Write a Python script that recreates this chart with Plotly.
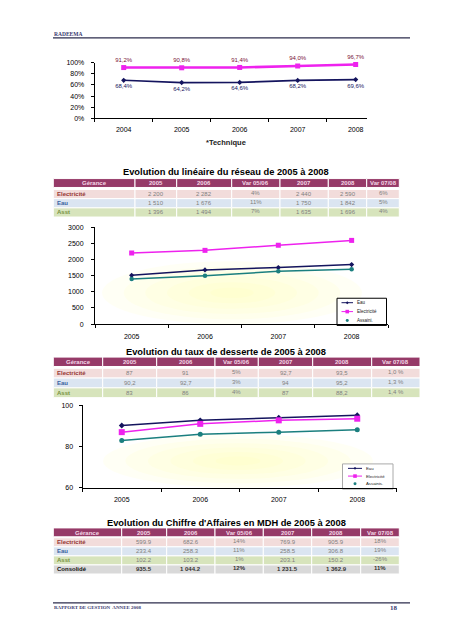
import plotly.graph_objects as go

# ---------------- data ----------------
rend_years = ["2004", "2005", "2006", "2007", "2008"]
rend_elec = [91.2, 90.8, 91.4, 94.0, 96.7]
rend_eau = [68.4, 64.2, 64.6, 68.2, 69.6]

years = ["2005", "2006", "2007", "2008"]
table_header = ["Gérance", "2005", "2006", "Var 05/06", "2007", "2008", "Var 07/08"]
gerances = ["Electricité", "Eau", "Asst"]

lin_elec = [2200, 2282, 2440, 2590]
lin_eau = [1510, 1676, 1750, 1842]
lin_asst = [1396, 1494, 1635, 1696]
lin_var_0506 = [4, 11, 7]
lin_var_0708 = [6, 5, 4]
lin_legend = ["Eau", "Electricité", "Assaini."]

taux_elec = [87, 91, 92.7, 93.5]
taux_eau = [90.2, 92.7, 94, 95.2]
taux_asst = [83, 86, 87, 88.2]
taux_var_0506 = [5, 3, 4]
taux_var_0708 = [1.0, 1.3, 1.4]
taux_legend = ["Eau", "Electricité", "Assainis."]

ca_labels = ["Electricité", "Eau", "Asst", "Consolidé"]
ca_elec = [599.9, 682.6, 769.9, 905.9]
ca_eau = [233.4, 258.3, 258.5, 306.8]
ca_asst = [102.2, 103.2, 203.1, 150.2]
ca_cons = [935.5, 1044.2, 1231.5, 1362.9]
ca_var_0506 = [14, 11, 1, 12]
ca_var_0708 = [18, 19, -26, 11]

# ---------------- helpers ----------------
W, H = 452, 640
SANS = "Liberation Sans"
SERIF = "Liberation Serif"
NAVY = "#14145e"
MAGENTA = "#ee22ee"
TEAL = "#1b7f7f"


def px(x):
    return x / W


def py(y):
    return 1 - y / H


shapes = []
annots = []


def line(x0, y0, x1, y1, color, width=1):
    shapes.append(dict(type="line", xref="paper", yref="paper", x0=px(x0), y0=py(y0),
                       x1=px(x1), y1=py(y1), line=dict(color=color, width=width)))


def rect(x0, y0, x1, y1, fill, lc="rgba(0,0,0,0)", lw=0, kind="rect"):
    shapes.append(dict(type=kind, xref="paper", yref="paper", x0=px(x0), y0=py(y1),
                       x1=px(x1), y1=py(y0), fillcolor=fill, layer="below",
                       line=dict(color=lc, width=lw)))


def text(x, y, s, size, color, family=SANS, anchor="center"):
    annots.append(dict(xref="paper", yref="paper", x=px(x), y=py(y), text=s, showarrow=False,
                       xanchor=anchor, yanchor="middle", borderpad=0,
                       font=dict(size=size, color=color, family=family)))


def fmt_int(v):
    return f"{v:,}".replace(",", " ")


def fmt_ca(v):
    return f"{v:,.1f}".replace(",", " ")


def fmt_taux(v):
    return f"{v:g}".replace(".", ",")


HEAD_FILL = "#963a68"
HEAD_TXT = "#f5d6e6"
ROW_FILL = {"Electricité": "#f2dcdb", "Eau": "#dbe5f1", "Asst": "#d7e4bc", "Consolidé": "#d9d9d9"}
ROW_LBL = {"Electricité": "#953735", "Eau": "#3a63a0", "Asst": "#76923c", "Consolidé": "#111111"}


def draw_table(edges, head_top, head_h, row_top, row_h, rows):
    for i in range(len(edges) - 1):
        rect(edges[i], head_top, edges[i + 1], head_top + head_h, HEAD_FILL, "white", 1)
        text((edges[i] + edges[i + 1]) / 2, head_top + head_h / 2 + 0.3,
             f"<b>{table_header[i]}</b>", 6, HEAD_TXT)
    for r, (lab, vals) in enumerate(rows):
        y0 = row_top + r * row_h
        cons = lab == "Consolidé"
        for i in range(len(edges) - 1):
            rect(edges[i], y0, edges[i + 1], y0 + row_h, ROW_FILL[lab], "white", 1)
        text(edges[0] + 2.5, y0 + row_h / 2, f"<b>{lab}</b>", 6, ROW_LBL[lab], anchor="left")
        for i, v in enumerate(vals):
            c = (edges[i + 1] + edges[i + 2]) / 2
            off = -1.2 if i in (2, 5) else 0
            s = f"<b>{v}</b>" if cons else v
            text(c, y0 + row_h / 2 + off, s, 6, "#333333" if cons else "#7f7f7f")


def legend_box(x0, y0, x1, y1, lc, entries, lx0, lx1, tx, size):
    rect(x0, y0, x1, y1, "white", lc, 1)
    for color, sym, has_line, lab, yy in entries:
        if has_line:
            line(lx0, yy, lx1, yy, color, 1)
        cx = (lx0 + lx1) / 2
        if sym == "square":
            rect(cx - 1.8, yy - 1.8, cx + 1.8, yy + 1.8, color)
        elif sym == "circle":
            rect(cx - 1.5, yy - 1.5, cx + 1.5, yy + 1.5, color, kind="circle")
        else:
            shapes.append(dict(type="path", xref="paper", yref="paper", fillcolor=color,
                               line=dict(width=0),
                               path=f"M {px(cx-1.5)} {py(yy)} L {px(cx)} {py(yy-1.5)} L {px(cx+1.5)} {py(yy)} L {px(cx)} {py(yy+1.5)} Z"))
        text(tx, yy, lab, size, "#222222", anchor="left")


def glow(cx, cy, rx, ry, n=6):
    for k in range(n):
        s = 1 - k / n
        rect(cx - rx * s, cy - ry * s, cx + rx * s, cy + ry * s,
             "rgba(255,252,160,0.11)", kind="circle")


fig = go.Figure()

# ---------------- chart 1 : rendements ----------------
fig.add_trace(go.Scatter(
    x=rend_years, y=[v / 100 for v in rend_eau], xaxis="x", yaxis="y",
    mode="lines+markers+text", line=dict(color=NAVY, width=1.6),
    marker=dict(symbol="diamond", size=4, color=NAVY),
    text=[f"{v:.1f}%".replace(".", ",") for v in rend_eau], textposition="bottom center",
    textfont=dict(size=6, color=NAVY, family=SANS), cliponaxis=False))
fig.add_trace(go.Scatter(
    x=rend_years, y=[v / 100 for v in rend_elec], xaxis="x", yaxis="y",
    mode="lines+markers+text", line=dict(color=MAGENTA, width=2.6),
    marker=dict(symbol="square", size=5, color=MAGENTA),
    text=[f"{v:.1f}%".replace(".", ",") for v in rend_elec], textposition="top center",
    textfont=dict(size=6, color="#7a1438", family=SANS), cliponaxis=False))

# ---------------- chart 2 : linéaire ----------------
glow(232, 292, 130, 32)
for vals, col, sym, sz in [(lin_eau, NAVY, "diamond", 4), (lin_elec, MAGENTA, "square", 5),
                           (lin_asst, TEAL, "circle", 4.5)]:
    fig.add_trace(go.Scatter(x=years, y=vals, xaxis="x2", yaxis="y2", mode="lines+markers",
                             line=dict(color=col, width=1.5),
                             marker=dict(symbol=sym, size=sz, color=col), cliponaxis=False))

# ---------------- chart 3 : taux de desserte ----------------
glow(238, 462, 135, 27)
for vals, col, sym, sz in [(taux_eau, NAVY, "diamond", 4.5), (taux_elec, MAGENTA, "square", 6),
                           (taux_asst, TEAL, "circle", 5)]:
    fig.add_trace(go.Scatter(x=years, y=vals, xaxis="x3", yaxis="y3", mode="lines+markers",
                             line=dict(color=col, width=1.5),
                             marker=dict(symbol=sym, size=sz, color=col), cliponaxis=False))

# ---------------- page decorations ----------------
text(53, 30, "<b>RADEEMA</b>", 5.5, "#3a3a70", family=SERIF, anchor="left")
line(53, 34.3, 410, 34.3, "#2c2c4c", 1.2)
line(53, 605.5, 410, 605.5, "#2c2c4c", 1.2)
text(53, 610.5, "<b>RAPPORT DE GESTION  ANNEE 2008</b>", 5, "#3a3a70", family=SERIF, anchor="left")
text(399, 610.5, "<b>18</b>", 7, "#3a3a70", family=SERIF, anchor="right")

text(226, 140, "<b>*Technique</b>", 7.5, "#222222")
text(226, 169.5, "<b>Evolution du linéaire du réseau de 2005 à 2008</b>", 9.3, "#000000")
text(226, 351.7, "<b>Evolution du taux de desserte de 2005 à 2008</b>", 9.3, "#000000")
text(226, 524.5, "<b>Evolution du Chiffre d'Affaires en MDH de 2005 à 2008</b>", 9.3, "#000000")

# tables
series_lin = [lin_elec, lin_eau, lin_asst]
rows1 = []
for k, lab in enumerate(gerances):
    v = series_lin[k]
    rows1.append((lab, [fmt_int(v[0]), fmt_int(v[1]), f"{lin_var_0506[k]}%",
                        fmt_int(v[2]), fmt_int(v[3]), f"{lin_var_0708[k]}%"]))
draw_table([53.3, 135, 176.7, 231.7, 280, 328.3, 366.7, 399.3], 176.5, 9, 187.5, 9.3, rows1)

series_taux = [taux_elec, taux_eau, taux_asst]
rows2 = []
for k, lab in enumerate(gerances):
    v = series_taux[k]
    rows2.append((lab, [fmt_taux(v[0]), fmt_taux(v[1]), f"{taux_var_0506[k]}%",
                        fmt_taux(v[2]), fmt_taux(v[3]),
                        f"{taux_var_0708[k]:.1f} %".replace(".", ",")]))
draw_table([53.3, 102.7, 156.7, 215, 258.3, 312.7, 371.7, 420], 357, 9.5, 368.3, 9.9, rows2)

series_ca = [ca_elec, ca_eau, ca_asst, ca_cons]
rows3 = []
for k, lab in enumerate(ca_labels):
    v = series_ca[k]
    rows3.append((lab, [fmt_ca(v[0]), fmt_ca(v[1]), f"{ca_var_0506[k]}%",
                        fmt_ca(v[2]), fmt_ca(v[3]), f"{ca_var_0708[k]}%"]))
draw_table([53.3, 121.7, 166.7, 215, 263.3, 311.7, 360.7, 399.3], 529.7, 9, 539.7, 9.15, rows3)

# legends
legend_box(337, 297.5, 386.5, 325, "#000000",
           [(NAVY, "diamond", True, lin_legend[0], 302),
            (MAGENTA, "square", True, lin_legend[1], 311),
            (TEAL, "circle", False, lin_legend[2], 320)],
           341.5, 353, 356, 4.5)
legend_box(342.5, 465, 393, 490.5, "#aaaaaa",
           [(NAVY, "diamond", True, taux_legend[0], 469.5),
            (MAGENTA, "square", True, taux_legend[1], 477.3),
            (TEAL, "circle", False, taux_legend[2], 485)],
           348, 362, 364.5, 4.3)

# ---------------- axes ----------------
base = dict(showline=True, linecolor="#000000", linewidth=1, ticks="outside", tickcolor="#000000",
            ticklen=3, showgrid=False, zeroline=False, fixedrange=True,
            tickfont=dict(size=7, color="#000000", family=SANS))
xcat = dict(base, type="category", tickson="boundaries")

fig.update_layout(
    width=W, height=H, margin=dict(l=0, r=0, t=0, b=0), autosize=False,
    paper_bgcolor="white", plot_bgcolor="rgba(0,0,0,0)", showlegend=False,
    xaxis=dict(xcat, domain=[px(94.7), px(366.7)], range=[-0.5, 4.19], anchor="y",
               ticklabelstandoff=4),
    yaxis=dict(base, domain=[py(115.7), py(59.3)], range=[0, 1], dtick=0.2, tickformat=".0%",
               anchor="x", ticklabelstandoff=5),
    xaxis2=dict(xcat, domain=[px(95), px(388.3)], range=[-0.5, 3.5], anchor="y2",
                ticklabelstandoff=5),
    yaxis2=dict(base, domain=[py(323.7), py(225.6)], range=[0, 3000], dtick=500, anchor="x2",
                ticklabelstandoff=6),
    xaxis3=dict(xcat, domain=[px(82.5), px(396.5)], range=[-0.5, 3.5], anchor="y3",
                ticklabelstandoff=5),
    yaxis3=dict(base, domain=[py(489.3), py(405.7)], range=[60, 100], dtick=20, anchor="x3",
                ticklabelstandoff=4),
    shapes=shapes, annotations=annots,
)

fig.write_html("out.html", config={"displayModeBar": False},
               post_script="document.body.style.margin='0';document.body.style.overflow='hidden';")
